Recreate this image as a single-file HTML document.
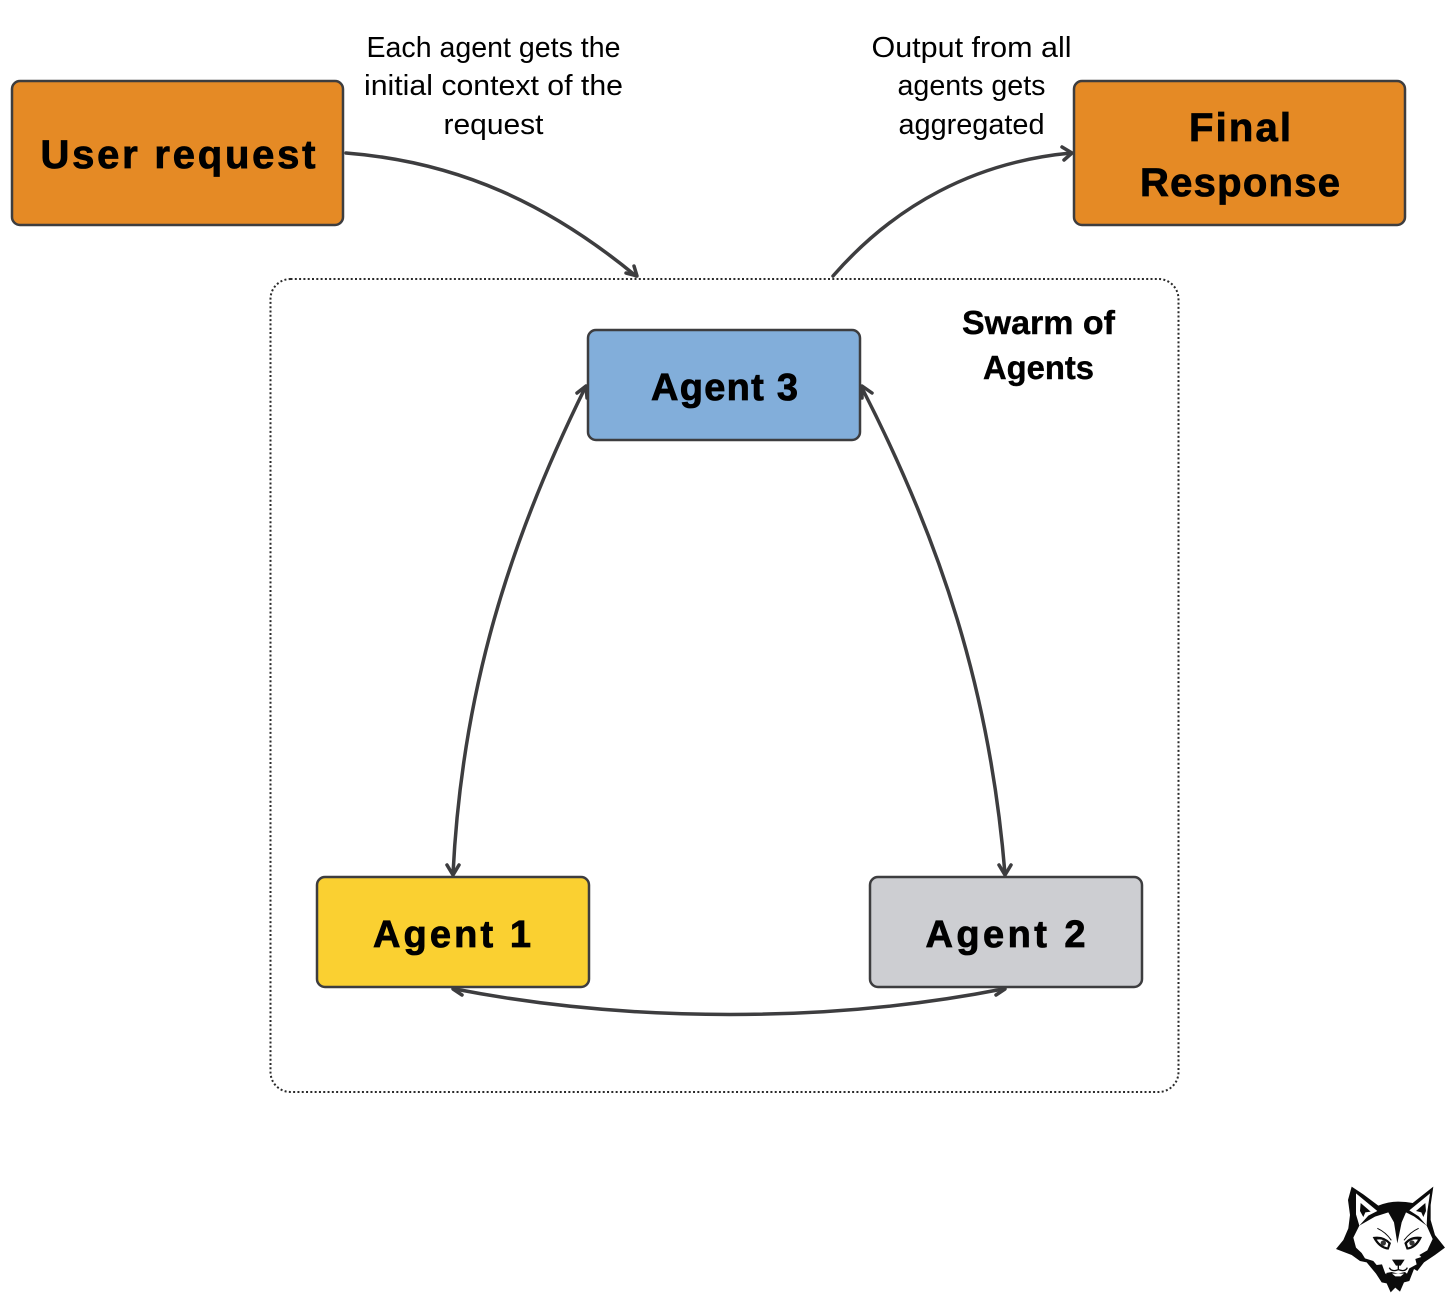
<!DOCTYPE html>
<html>
<head>
<meta charset="utf-8">
<style>
html,body{margin:0;padding:0;background:#fff}
svg{display:block}
text{font-family:"Liberation Sans",sans-serif;fill:#000;text-anchor:middle}
.b{font-weight:700}
.h{font-weight:700;stroke:#000;stroke-width:.8px}
</style>
</head>
<body>
<svg width="1456" height="1305" viewBox="0 0 1456 1305" xmlns="http://www.w3.org/2000/svg">
<rect width="1456" height="1305" fill="#fff"/>

<rect x="270.500" y="279" width="908" height="813" rx="20" fill="none" stroke="#2a2a2a" stroke-width="2" stroke-dasharray="2 2.300"/>

<g fill="none" stroke="#3d3d3f" stroke-width="3.500" stroke-linecap="round" stroke-linejoin="round">
<path d="M346 153 C 460 162 550 205 636 276"/>
<path d="M626 273 L637 276 L634 266"/>
<path d="M833 276 C 895 205 975 162 1071 153"/>
<path d="M1062 147 L1072 153 L1064 160"/>
<path d="M585 388 C 510 540 462 690 453 874"/>
<path d="M577 393 L586 386 L587 398"/>
<path d="M447 865 L453 875 L459 865"/>
<path d="M862 388 C 940 540 990 690 1005 874"/>
<path d="M862 398 L862 386 L872 393"/>
<path d="M999 865 L1005 875 L1011 865"/>
<path d="M455 989 C 630 1023 830 1023 1003 989"/>
<path d="M463 984 L453 989 L462 995"/>
<path d="M995 984 L1005 989 L996 995"/>
</g>

<g stroke="#3d3d3f" stroke-width="2.500">
<rect x="12" y="81" width="331" height="144" rx="8" fill="#e58a25"/>
<rect x="1074" y="81" width="331" height="144" rx="8" fill="#e58a25"/>
<rect x="588" y="330" width="272" height="110" rx="8" fill="#82aeda"/>
<rect x="317" y="877" width="272" height="110" rx="8" fill="#fad031"/>
<rect x="870" y="877" width="272" height="110" rx="8" fill="#cdced2"/>
</g>

<g font-size="40">
<text x="178" y="168" class="h" textLength="275" lengthAdjust="spacing">User request</text>
<text x="1240" y="141" class="h" textLength="102" lengthAdjust="spacing">Final</text>
<text x="1240" y="196" class="h" textLength="200" lengthAdjust="spacing">Response</text>
</g>
<g font-size="38">
<text x="724.500" y="400" class="h" textLength="147" lengthAdjust="spacing">Agent 3</text>
<text x="452" y="947" class="h" textLength="158" lengthAdjust="spacing">Agent 1</text>
<text x="1005.500" y="947" class="h" textLength="160" lengthAdjust="spacing">Agent 2</text>
</g>
<g font-size="33">
<text x="1038.500" y="334" class="h" style="stroke-width:.4px" textLength="153" lengthAdjust="spacingAndGlyphs">Swarm of</text>
<text x="1038.500" y="379" class="h" style="stroke-width:.4px" textLength="111" lengthAdjust="spacingAndGlyphs">Agents</text>
</g>
<g font-size="29">
<text x="493.500" y="57" textLength="254" lengthAdjust="spacingAndGlyphs">Each agent gets the</text>
<text x="493.500" y="95" textLength="259" lengthAdjust="spacingAndGlyphs">initial context of the</text>
<text x="493.500" y="134" textLength="100" lengthAdjust="spacingAndGlyphs">request</text>
<text x="971.500" y="57" textLength="200" lengthAdjust="spacingAndGlyphs">Output from all</text>
<text x="971.500" y="95" textLength="148" lengthAdjust="spacingAndGlyphs">agents gets</text>
<text x="971.500" y="134" textLength="146" lengthAdjust="spacingAndGlyphs">aggregated</text>
</g>

<g transform="translate(1320 1175) scale(0.3333)">
<path fill="#0b0b0b" d="M95 35 L130 58 L175 92 Q205 80 235 80 Q258 80 278 84 L340 35 L332 90 L332 135 L345 180 L375 218 L345 240 L312 262 L292 288 L282 282 L268 318 L252 322 L240 350 L226 338 L212 352 L200 325 L185 322 L168 296 L140 262 L120 258 L95 240 L48 222 L70 195 L85 160 L90 120 L84 75 Z"/>
<path fill="#fff" d="M108 55 L172 108 L145 122 L118 152 L108 118 Z"/>
<path fill="#fff" d="M330 55 L322 110 L320 152 L296 124 L268 106 Z"/>
<path fill="#0b0b0b" d="M122 84 L152 110 L136 112 L130 126 L120 108 Z"/>
<path fill="#0b0b0b" d="M316 84 L288 108 L304 112 L310 126 L318 108 Z"/>
<path fill="#fff" d="M118 152 L165 125 L205 112 L222 142 L232 205 L245 142 L258 112 L282 124 L320 152 L338 192 L322 226 L298 240 L304 246 L286 252 L290 268 L268 280 L260 298 L225 306 L196 296 L186 268 L170 270 L160 258 L135 250 L125 234 L108 218 L100 188 Z"/>
<path fill="#0b0b0b" d="M158 186 Q192 180 213 204 L206 224 Q176 222 158 186 Z"/>
<path fill="#0b0b0b" d="M306 186 Q272 180 253 204 L260 224 Q290 222 306 186 Z"/>
<path fill="#fff" d="M170 194 Q190 190 205 206 L202 217 Q184 214 170 194 Z"/>
<path fill="#fff" d="M294 194 Q274 190 261 206 L264 217 Q282 214 294 194 Z"/>
<ellipse cx="190" cy="204" rx="8" ry="8" fill="#333"/>
<ellipse cx="276" cy="204" rx="8" ry="8" fill="#333"/>
<path fill="none" stroke="#0b0b0b" stroke-width="3" d="M172 160 Q198 172 214 196 M296 160 Q270 172 252 196"/>
<path fill="#0b0b0b" d="M216 254 L254 254 L242 272 L228 272 Z"/>
<path fill="none" stroke="#0b0b0b" stroke-width="4" d="M235 270 L235 284 M208 278 Q215 292 235 284 Q256 292 262 278"/>
<path fill="#0b0b0b" d="M198 294 L215 291 L235 296 L255 291 L262 297 L255 315 L215 315 Z"/>
<path fill="#fff" d="M216 296 L252 296 L242 304 L226 304 Z"/>
</g>
</svg>
</body>
</html>
